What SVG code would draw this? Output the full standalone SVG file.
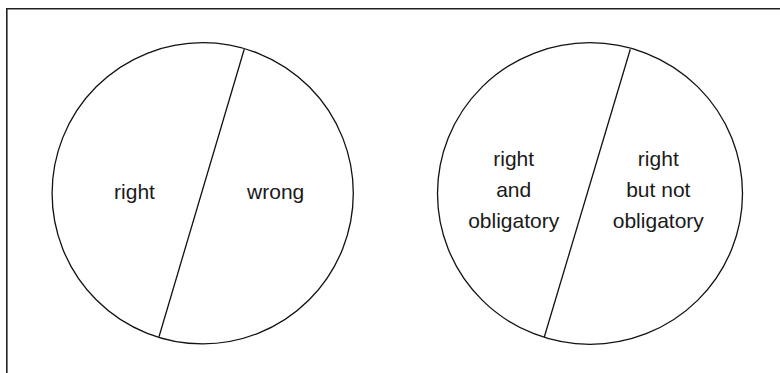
<svg xmlns="http://www.w3.org/2000/svg" width="780" height="373" viewBox="0 0 780 373">
<style>
.c{fill:#fff;stroke:#111;stroke-width:1.3}
.d{stroke:#111;stroke-width:1.3;fill:none}
.t{font-family:"Liberation Sans",Arial,sans-serif;font-size:21px;fill:#1a1a1a;text-anchor:middle}
</style>
<rect width="780" height="373" fill="#fff"/>
<path d="M6.8,373 V8.8 H780" fill="none" stroke="#222" stroke-width="1.6"/>
<g id="circle1">
<circle class="c" cx="202.7" cy="193.3" r="150.6"/>
<text class="t" x="134.5" y="199.3">right</text>
<text class="t" x="275.7" y="199.3">wrong</text>
</g>
<g id="circle2">
<ellipse class="c" cx="590" cy="193.5" rx="152.5" ry="150.8"/>
<text class="t" x="513.7" y="166">right</text>
<text class="t" x="513.7" y="197">and</text>
<text class="t" x="513.7" y="228">obligatory</text>
<text class="t" x="658.3" y="166">right</text>
<text class="t" x="658.3" y="197">but not</text>
<text class="t" x="658.3" y="228">obligatory</text>
</g>
<g id="connectors">
<line class="d" x1="244.3" y1="49" x2="159" y2="336.7"/>
<line class="d" x1="630.3" y1="49.3" x2="544.3" y2="337"/>
</g>
</svg>
